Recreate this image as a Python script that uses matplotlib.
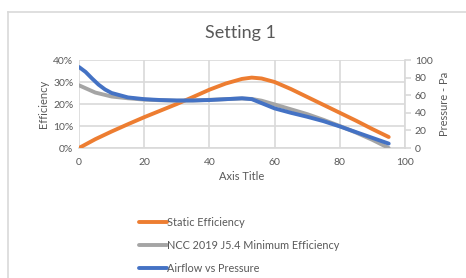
import matplotlib
matplotlib.use("Agg")
import matplotlib.pyplot as plt
from matplotlib.lines import Line2D
from matplotlib.ticker import FuncFormatter

plt.rcParams['font.family'] = ['Lato', 'DejaVu Sans']

# Data
eff_x = [0, 5, 10, 15, 20, 25, 30, 35, 40, 45, 50, 53, 56, 60, 65, 70, 75, 80, 85, 90, 95]
static_eff = [0, 4, 7.5, 10.8, 14, 17, 20, 23.2, 26.5, 29.3, 31.4, 32, 31.6, 30, 26.8, 23.2, 19.6, 16, 12.4, 8.6, 5]
ncc_min = [28.5, 25.2, 23.4, 22.6, 22, 21.7, 21.5, 21.6, 21.9, 22.2, 22.5, 22.3, 21.5, 19.8, 17.6, 15.4, 12.8, 10, 7, 3.7, 0]
air_x = [0, 2, 4, 6, 8, 10, 15, 20, 25, 30, 35, 40, 45, 50, 53, 56, 60, 65, 70, 75, 80, 85, 90, 95]
pressure = [92, 86.5, 79, 72, 66.5, 62.5, 57.5, 55.5, 54.5, 54, 54, 54.5, 55.5, 56.5, 55.5, 51, 45, 40, 35.5, 30.5, 24.5, 18, 11.5, 5]

x_ticks = [0, 20, 40, 60, 80, 100]
left_ticks = [0, 10, 20, 30, 40]
right_ticks = [0, 20, 40, 60, 80, 100]

ORANGE = '#ED7D31'
GRAY = '#A5A5A5'
BLUE = '#4472C4'
TXT = '#595959'
GRID = '#D9D9D9'

fig = plt.figure(figsize=(4.66, 2.78), dpi=100)
fig.patch.set_facecolor('white')

# chart border (top and left visible)
fig.add_artist(Line2D([7.5/466, 7.5/466], [0, 1-12/278], transform=fig.transFigure, color=GRID, lw=1.2))
fig.add_artist(Line2D([7.5/466, 1.0], [1-12/278, 1-12/278], transform=fig.transFigure, color=GRID, lw=1.2))

ax = fig.add_axes([79/466, 1-148/278, (405-79)/466, (148-60)/278])
ax.set_xlim(0, 100)
ax.set_ylim(0, 40)
ax.set_xticks(x_ticks)
ax.set_yticks(left_ticks)
ax.yaxis.set_major_formatter(FuncFormatter(lambda v, p: f"{int(v)}%"))
ax.grid(True, color=GRID, lw=1.2)
ax.set_axisbelow(True)
for s in ax.spines.values():
    s.set_visible(False)
ax.spines['bottom'].set_visible(True)
ax.spines['bottom'].set_color(GRID)
ax.spines['bottom'].set_linewidth(1.2)
ax.tick_params(axis='both', length=0, labelsize=7.5, colors=TXT, pad=4)
ax.tick_params(axis='x', pad=7)

l1, = ax.plot(eff_x, static_eff, color=ORANGE, lw=2.8, solid_capstyle='round', zorder=3)
l2, = ax.plot(eff_x, ncc_min, color=GRAY, lw=2.8, solid_capstyle='round', zorder=3)
ax.set_ylabel('Efficiency', fontsize=8, color=TXT, labelpad=3)
ax.set_xlabel('Axis Title', fontsize=8, color=TXT, labelpad=3)

ax2 = ax.twinx()
ax2.set_ylim(0, 100)
ax2.set_yticks(right_ticks)
for s in ax2.spines.values():
    s.set_visible(False)
ax2.spines['right'].set_visible(True)
ax2.spines['right'].set_color(GRID)
ax2.spines['right'].set_linewidth(1.2)
ax2.tick_params(axis='y', length=4, width=1.2, color=GRID, labelsize=7.5, labelcolor=TXT, pad=3)
l3, = ax2.plot(air_x, pressure, color=BLUE, lw=2.8, solid_capstyle='round', zorder=4)
ax2.set_ylabel('Pressure - Pa', fontsize=8, color=TXT, labelpad=5)

fig.text(240/466, 1-33/278, 'Setting 1', ha='center', va='center', fontsize=13, color=TXT)

leg = fig.legend([l1, l2, l3], ['Static Efficiency', 'NCC 2019 J5.4 Minimum Efficiency', 'Airflow vs Pressure'],
                 loc='upper left', bbox_to_anchor=(134/466, 1-211.5/278), frameon=False,
                 prop={'size': 7.8}, labelcolor=TXT, handlelength=2.5, handletextpad=0.05,
                 labelspacing=1.1, borderpad=0)

fig.savefig('out.png', dpi=100, facecolor='white')
